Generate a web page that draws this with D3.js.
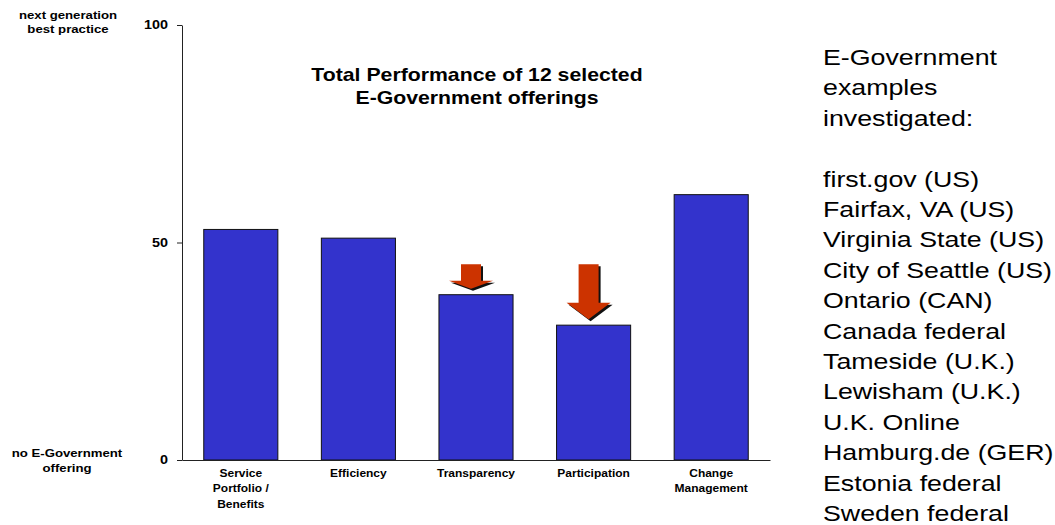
<!DOCTYPE html>
<html>
<head>
<meta charset="utf-8">
<script src="https://cdn.jsdelivr.net/npm/d3@7"></script>
<style>
  html, body { margin: 0; padding: 0; background: #fff; }
  svg { display: block; font-family: Arial, "Liberation Sans", sans-serif; }
</style>
</head>
<body>
<svg id="chart" width="1055" height="525"></svg>
<script>
// Performance dimensions and their scores (0 = none, 100 = best practice)
const categories = ["Service Portfolio / Benefits", "Efficiency", "Transparency", "Participation", "Change Management"];
const categoryLines = [["Service", "Portfolio /", "Benefits"], ["Efficiency"], ["Transparency"], ["Participation"], ["Change", "Management"]];
const scores = [53, 51, 38, 31, 61];
const yTicks = [0, 50, 100];
// Dimensions flagged with a downward arrow
const flagged = ["Transparency", "Participation"];
const titleLines = ["Total Performance of 12 selected", "E-Government offerings"];
const topLabel = ["next generation", "best practice"];
const bottomLabel = ["no E-Government", "offering"];
const sideHeader = ["E-Government", "examples", "investigated:"];
const examples = ["first.gov (US)", "Fairfax, VA (US)", "Virginia State (US)", "City of Seattle (US)",
  "Ontario (CAN)", "Canada federal", "Tameside (U.K.)", "Lewisham (U.K.)", "U.K. Online",
  "Hamburg.de (GER)", "Estonia federal", "Sweden federal"];

const svg = d3.select("#chart");
const SX = 1.2; // wide letterforms

const x = d3.scaleBand().domain(categories).range([182, 770]).paddingInner(0.37).paddingOuter(0.185);
const y = d3.scaleLinear().domain([0, 100]).range([460, 25]);

// multi-line, horizontally widened text block
function block(x0, y0, lines, opt) {
  const t = svg.append("text")
    .attr("transform", `translate(${x0},${y0}) scale(${SX},1)`)
    .attr("text-anchor", opt.anchor || "middle")
    .attr("font-size", opt.size)
    .attr("font-weight", opt.weight || "normal")
    .attr("fill", "#000");
  lines.forEach((s, i) => {
    t.append("tspan").attr("x", 0).attr("y", i * opt.lh).text(s);
  });
  return t;
}

// Bars
svg.append("g").selectAll("rect")
  .data(categories)
  .join("rect")
  .attr("x", d => x(d))
  .attr("width", x.bandwidth())
  .attr("y", (d, i) => y(scores[i]))
  .attr("height", (d, i) => y(0) - y(scores[i]))
  .attr("fill", "#3333CC")
  .attr("stroke", "#111")
  .attr("stroke-width", 1);

// Y axis
const yAxis = svg.append("g")
  .attr("transform", "translate(182,0)")
  .call(d3.axisLeft(y).tickValues(yTicks).tickSize(5).tickSizeOuter(0).tickPadding(9));
yAxis.select(".domain").attr("stroke", "#222");
yAxis.selectAll(".tick line").attr("stroke", "#222");
yAxis.selectAll(".tick text")
  .attr("font-family", "Arial, 'Liberation Sans', sans-serif")
  .attr("font-size", 12)
  .attr("font-weight", "bold")
  .attr("fill", "#000")
  .attr("x", -14 / SX)
  .attr("transform", `scale(${SX},1)`);

// X axis baseline
const xAxis = svg.append("g")
  .attr("transform", `translate(0,${y(0)})`)
  .call(d3.axisBottom(x).tickSize(0).tickSizeOuter(0).tickFormat(""));
xAxis.select(".domain").attr("stroke", "#222");

// Category labels
categories.forEach((c, i) => {
  block(x(c) + x.bandwidth() / 2, 477, categoryLines[i], { size: 10, weight: "bold", lh: 15.5 });
});

// Downward arrows above flagged bars
const arrowTop = y(45);
flagged.forEach(c => {
  const i = categories.indexOf(c);
  const cx = x(c) + x.bandwidth() / 2 - 5;
  const tip = y(scores[i]) - 6;
  const len = tip - arrowTop;
  const head = Math.max(8, len * 0.3);
  const sw = 10, hw = 22;
  const pts = [
    [cx - sw, arrowTop], [cx + sw, arrowTop], [cx + sw, tip - head], [cx + hw, tip - head],
    [cx, tip], [cx - hw, tip - head], [cx - sw, tip - head]
  ];
  const line = d3.line();
  svg.append("path").attr("d", line(pts) + "Z").attr("fill", "#111")
    .attr("transform", "translate(2,2)");
  svg.append("path").attr("d", line(pts) + "Z").attr("fill", "#CC3300");
});

// Title
block(477, 81, titleLines, { size: 17.7, weight: "bold", lh: 23 });

// Scale end descriptions
block(68, 19, topLabel, { size: 11, weight: "bold", lh: 14 });
block(67, 457, bottomLabel, { size: 11, weight: "bold", lh: 15 });

// Side list of investigated offerings
const sideLines = sideHeader.concat([""], examples);
block(823, 65, sideLines, { size: 22.3, anchor: "start", lh: 30.4 });
</script>
</body>
</html>
